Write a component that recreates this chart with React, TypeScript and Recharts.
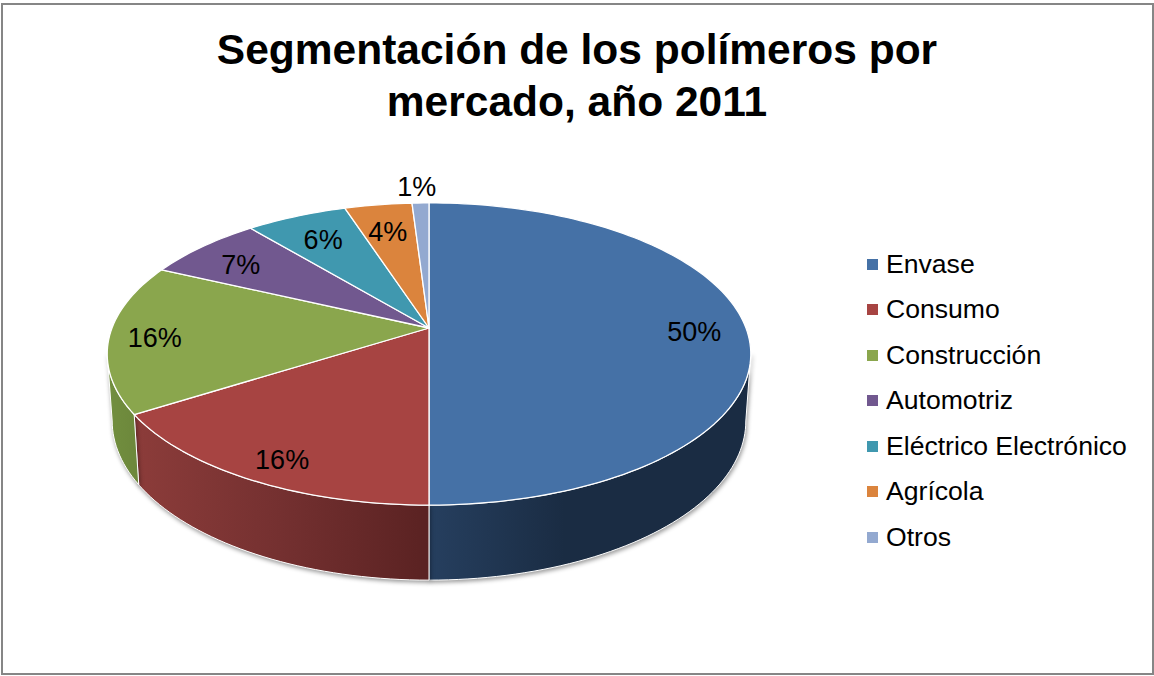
import { Legend, Pie, PieChart } from 'recharts';

const CATEGORIES = [
  'Envase',
  'Consumo',
  'Construcción',
  'Automotriz',
  'Eléctrico Electrónico',
  'Agrícola',
  'Otros',
];
const VALUES = [50, 16, 16, 7, 6, 4, 1];
const TITLE_LINES = ['Segmentación de los polímeros por', 'mercado, año 2011'];

const COLORS = ['#4571a6', '#a74442', '#8aa64d', '#71588f', '#4098af', '#db843d', '#93a9d0'];
// left / middle / right colour of the side wall of each slice
const WALL_COLORS = [
  ['#263f5f', '#1a2c43', '#1a2c43'],
  ['#8c3c3a', '#743030', '#5a2222'],
  ['#728f3f', '#6f8b3d', '#6c873b'],
  ['#5d4876', '#5d4876', '#5d4876'],
  ['#34808f', '#34808f', '#34808f'],
  ['#b56d32', '#b56d32', '#b56d32'],
  ['#7a8cad', '#7a8cad', '#7a8cad'],
];

const FONT = '"Liberation Sans", Arial, sans-serif';
const RADIUS = 317;
const CENTER_X = 429;
const CENTER_Y = 328;

// The disc is drawn in perspective: a circle through a projective map
const TOP_DISC = { xs: 1, ys: 146.5 / 316.7, k: 0.172, dy: 0 };
const BOTTOM_DISC = { xs: 311.8 / 316.7, ys: 154.3 / 316.7, k: 0.172, dy: 65.6 };
// Only this part of the rim faces the viewer (angles run clockwise from 90)
const FRONT_FROM = -9.9;
const FRONT_TO = -170.1;

type Disc = typeof TOP_DISC;

const project = (cx: number, cy: number, r: number, deg: number, frac: number, disc: Disc) => {
  const a = (deg * Math.PI) / 180;
  const px = Math.cos(a) * frac;
  const py = Math.sin(a) * frac;
  const w = 1 + disc.k * py;
  return [cx + (r * disc.xs * px) / w, cy + disc.dy - (r * disc.ys * py) / w];
};

const arcPoints = (cx: number, cy: number, r: number, start: number, end: number, disc: Disc) => {
  const steps = Math.max(2, Math.ceil(Math.abs(end - start) / 1.5));
  const pts: number[][] = [];
  for (let i = 0; i <= steps; i++) {
    pts.push(project(cx, cy, r, start + ((end - start) * i) / steps, 1, disc));
  }
  return pts;
};

const toPath = (pts: number[][]) =>
  pts.map((p, i) => `${i === 0 ? 'M' : 'L'}${p[0].toFixed(2)},${p[1].toFixed(2)}`).join(' ') + ' Z';

const TopSlice = (props: any) => {
  const { cx, cy, outerRadius, startAngle, endAngle, fill } = props;
  const pts = [[cx, cy], ...arcPoints(cx, cy, outerRadius, startAngle, endAngle, TOP_DISC)];
  return <path d={toPath(pts)} fill={fill} stroke="#ffffff" strokeWidth={1.3} strokeLinejoin="round" />;
};

const WallSlice = (props: any) => {
  const { cx, cy, outerRadius, startAngle, endAngle, index } = props;
  const from = Math.min(startAngle, FRONT_FROM);
  const to = Math.max(endAngle, FRONT_TO);
  if (from <= to) return null;
  const i = index ?? CATEGORIES.indexOf(props.name);
  const top = arcPoints(cx, cy, outerRadius, from, to, TOP_DISC);
  const bottom = arcPoints(cx, cy, outerRadius, to, from, BOTTOM_DISC);
  const stops = WALL_COLORS[i];
  const id = `wall-${i}`;
  // Envase runs dark from the middle on, Consumo darkens towards the centre
  return (
    <g style={{ filter: 'drop-shadow(1px 2px 2px rgba(0,0,0,0.4))' }}>
      <defs>
        <linearGradient id={id} x1="0" y1="0" x2="1" y2="0">
          <stop offset="0" stopColor={stops[0]} />
          <stop offset={i === 0 ? '0.42' : '0.5'} stopColor={stops[1]} />
          <stop offset="1" stopColor={stops[2]} />
        </linearGradient>
      </defs>
      <path d={toPath([...top, ...bottom])} fill={`url(#${id})`} stroke="#ffffff" strokeWidth={1} strokeLinejoin="round" />
    </g>
  );
};

// Best-fit nudges of the data labels, px from the 84% radius
const LABEL_NUDGE = [
  [-1, 4],
  [0, 8.5],
  [-6, 2],
  [5, 6],
  [8, 8],
  [2.5, 10],
  [-5, -33],
];

const SliceLabel = (props: any) => {
  const { cx, cy, outerRadius, midAngle, index, value } = props;
  const [x, y] = project(cx, cy, outerRadius, midAngle, 0.84, TOP_DISC);
  const [dx, dy] = LABEL_NUDGE[index];
  return (
    <text
      x={x + dx}
      y={y + dy}
      textAnchor="middle"
      dominantBaseline="central"
      fill="#000000"
      fontSize={27}
      fontFamily={FONT}
    >
      {`${value}%`}
    </text>
  );
};

const LegendList = ({ payload }: any) => {
  // both pies report to the legend, keep the first of each name in data order
  const names = new Map<string, string>();
  (payload ?? []).forEach((item: any) => {
    if (!names.has(item.value)) names.set(item.value, item.color);
  });
  return (
    <div style={{ fontFamily: FONT, fontSize: 26.6, color: '#000' }}>
      {CATEGORIES.map((name) => (
        <div
          key={name}
          style={{ display: 'flex', alignItems: 'center', height: 45.5, whiteSpace: 'nowrap' }}
        >
          <span style={{ width: 11, height: 11, background: names.get(name), marginRight: 8 }} />
          <span>{name}</span>
        </div>
      ))}
    </div>
  );
};

const data = CATEGORIES.map((name, i) => ({ name, value: VALUES[i], fill: COLORS[i] }));

export default function App() {
  return (
    <div
      style={{
        position: 'absolute',
        left: 0,
        top: 0,
        width: 1154,
        height: 676,
        background: '#fff',
        overflow: 'hidden',
      }}
    >
      <div
        style={{
          position: 'absolute',
          left: 1,
          top: 3,
          width: 1149,
          height: 668,
          border: '2px solid #868686',
        }}
      />
      <div
        style={{
          position: 'absolute',
          left: 0,
          top: 24,
          width: 1154,
          textAlign: 'center',
          fontFamily: FONT,
          fontWeight: 700,
          fontSize: 42.5,
          lineHeight: '52px',
          color: '#000',
        }}
      >
        {TITLE_LINES.map((line) => (
          <div key={line}>{line}</div>
        ))}
      </div>
      <div style={{ position: 'absolute', left: 0, top: 0 }}>
        <PieChart width={1154} height={676} margin={{ top: 0, right: 0, bottom: 0, left: 0 }}>
          <Pie
            data={data}
            dataKey="value"
            nameKey="name"
            cx={CENTER_X}
            cy={CENTER_Y}
            outerRadius={RADIUS}
            startAngle={90}
            endAngle={-270}
            legendType="none"
            shape={WallSlice}
            label={false}
            labelLine={false}
            isAnimationActive={false}
          />
          <Pie
            data={data}
            dataKey="value"
            nameKey="name"
            cx={CENTER_X}
            cy={CENTER_Y}
            outerRadius={RADIUS}
            startAngle={90}
            endAngle={-270}
            shape={TopSlice}
            label={SliceLabel}
            labelLine={false}
            isAnimationActive={false}
          />
          <Legend
            layout="vertical"
            align="right"
            verticalAlign="top"
            content={LegendList}
            wrapperStyle={{ position: 'absolute', left: 867, top: 241.5, width: 280 }}
          />
        </PieChart>
      </div>
    </div>
  );
}
